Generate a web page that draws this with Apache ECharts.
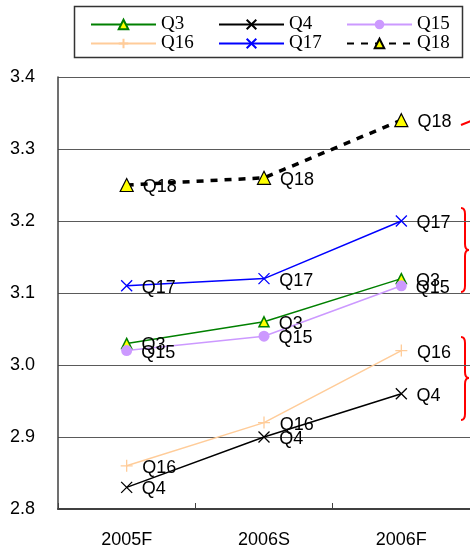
<!DOCTYPE html>
<html>
<head>
<meta charset="utf-8">
<script src="https://cdn.jsdelivr.net/npm/echarts@6/dist/echarts.min.js"></script>
<style>
html,body{margin:0;padding:0;background:#fff;}
#c{width:470px;height:549px;}
</style>
</head>
<body>
<div id="c"></div>
<script>
var categories = ['2005F', '2006S', '2006F'];
var q3  = [3.03, 3.06, 3.12];
var q4  = [2.83, 2.90, 2.96];
var q15 = [3.02, 3.04, 3.11];
var q16 = [2.86, 2.92, 3.02];
var q17 = [3.11, 3.12, 3.20];
var q18 = [3.25, 3.26, 3.34];
var yTicks = [2.8, 2.9, 3.0, 3.1, 3.2, 3.3, 3.4];

var chart = echarts.init(document.getElementById('c'), null, {renderer: 'canvas'});
var sans = 'Liberation Sans, Arial, sans-serif';
var serif = 'Liberation Serif, Times New Roman, serif';
var crossPath = 'path://M0,0L10,10M10,0L0,10';
var plusPath = 'path://M5,0L5,10M0,5L10,5';

function lbl(name) {
  return {show: true, position: 'right', distance: 9, offset: [0, 2], formatter: name,
          color: '#000', fontSize: 18, fontFamily: sans};
}
function mk(name, data, color, symbol, size, itemStyle, lineStyle) {
  return {
    name: name, type: 'line', data: data,
    symbol: symbol, symbolSize: size,
    itemStyle: itemStyle,
    lineStyle: lineStyle || {color: color, width: 1.5},
    label: lbl(name),
    emphasis: {disabled: true},
    animation: false
  };
}

var legendCommon = {
  orient: 'vertical', top: 15, itemWidth: 65, itemHeight: 12, itemGap: 0, padding: 0,
  textStyle: {fontFamily: serif, fontSize: 19, color: '#000', lineHeight: 19},
  selectedMode: false
};

var option = {
  backgroundColor: '#fff',
  animation: false,
  grid: {left: 58, top: 77, width: 417, height: 433, containLabel: false},
  legend: [
    Object.assign({left: 90, data: ['Q3', 'Q16']}, legendCommon),
    Object.assign({left: 218, data: ['Q4', 'Q17']}, legendCommon),
    Object.assign({left: 346, data: ['Q15', 'Q18']}, legendCommon)
  ],
  xAxis: {
    type: 'category', data: categories, boundaryGap: true,
    axisLine: {lineStyle: {color: '#404040', width: 2}},
    axisTick: {show: true, inside: true, length: 6, lineStyle: {color: '#404040', width: 1}},
    axisLabel: {color: '#000', fontSize: 18, fontFamily: sans, margin: 22},
    splitLine: {show: false}
  },
  yAxis: {
    type: 'value', min: 2.8, max: 3.4, interval: 0.1,
    axisLine: {show: true, lineStyle: {color: '#404040', width: 1.5}},
    axisTick: {show: false},
    axisLabel: {color: '#000', fontSize: 18, fontFamily: sans, margin: 23,
      formatter: function (v) {
        for (var i = 0; i < yTicks.length; i++) { if (Math.abs(yTicks[i] - v) < 1e-6) return yTicks[i].toFixed(1); }
        return '';
      }},
    splitLine: {show: true, lineStyle: {color: '#5a5a5a', width: 1}}
  },
  series: [
    mk('Q3', q3, '#008000', 'triangle', 10, {color: '#ffff00', borderColor: '#008000', borderWidth: 1.5}),
    mk('Q4', q4, '#000000', crossPath, 11, {color: '#000000', borderColor: '#000000', borderWidth: 1.3}),
    mk('Q15', q15, '#cc99ff', 'circle', 11, {color: '#cc99ff', borderColor: '#cc99ff', borderWidth: 0}),
    mk('Q16', q16, '#ffcc99', plusPath, 12, {color: '#ffcc99', borderColor: '#ffcc99', borderWidth: 1.3}),
    mk('Q17', q17, '#0000ff', crossPath, 11, {color: '#0000ff', borderColor: '#0000ff', borderWidth: 1.3}),
    mk('Q18', q18, '#000000', 'triangle', 13, {color: '#ffff00', borderColor: '#000000', borderWidth: 1.2},
       {color: '#000000', width: 3.5, type: [7, 7]})
  ],
  graphic: [
    {type: 'rect', z: -1, shape: {x: 74.5, y: 6.5, width: 388, height: 51},
     style: {fill: '#fff', stroke: '#333', lineWidth: 1.5}},
    {type: 'line', shape: {x1: 461, y1: 125, x2: 471, y2: 121}, style: {stroke: '#ff0000', lineWidth: 2}},
    {type: 'bezierCurve', shape: {x1: 461, y1: 208, cpx1: 465, cpy1: 208, x2: 465, y2: 214}, style: {stroke: '#ff0000', lineWidth: 2, fill: null}},
    {type: 'line', shape: {x1: 465, y1: 214, x2: 465, y2: 244}, style: {stroke: '#ff0000', lineWidth: 2}},
    {type: 'bezierCurve', shape: {x1: 465, y1: 244, cpx1: 465, cpy1: 250, x2: 469, y2: 250}, style: {stroke: '#ff0000', lineWidth: 2, fill: null}},
    {type: 'bezierCurve', shape: {x1: 469, y1: 250, cpx1: 465, cpy1: 250, x2: 465, y2: 256}, style: {stroke: '#ff0000', lineWidth: 2, fill: null}},
    {type: 'line', shape: {x1: 465, y1: 256, x2: 465, y2: 286}, style: {stroke: '#ff0000', lineWidth: 2}},
    {type: 'bezierCurve', shape: {x1: 465, y1: 286, cpx1: 465, cpy1: 292, x2: 461, y2: 292}, style: {stroke: '#ff0000', lineWidth: 2, fill: null}},
    {type: 'bezierCurve', shape: {x1: 461, y1: 337, cpx1: 465, cpy1: 337, x2: 465, y2: 343}, style: {stroke: '#ff0000', lineWidth: 2, fill: null}},
    {type: 'line', shape: {x1: 465, y1: 343, x2: 465, y2: 372}, style: {stroke: '#ff0000', lineWidth: 2}},
    {type: 'bezierCurve', shape: {x1: 465, y1: 372, cpx1: 465, cpy1: 378, x2: 469, y2: 378}, style: {stroke: '#ff0000', lineWidth: 2, fill: null}},
    {type: 'bezierCurve', shape: {x1: 469, y1: 378, cpx1: 465, cpy1: 378, x2: 465, y2: 384}, style: {stroke: '#ff0000', lineWidth: 2, fill: null}},
    {type: 'line', shape: {x1: 465, y1: 384, x2: 465, y2: 414}, style: {stroke: '#ff0000', lineWidth: 2}},
    {type: 'bezierCurve', shape: {x1: 465, y1: 414, cpx1: 465, cpy1: 420, x2: 461, y2: 420}, style: {stroke: '#ff0000', lineWidth: 2, fill: null}}
  ]
};
chart.setOption(option);
</script>
</body>
</html>
